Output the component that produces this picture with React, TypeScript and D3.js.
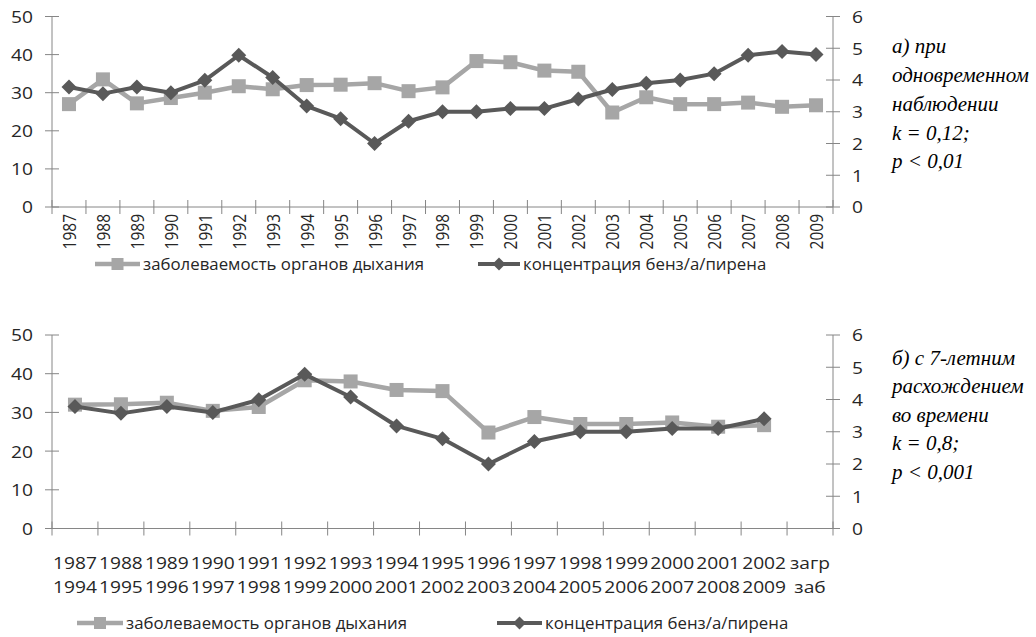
import React from "react";
import * as d3 from "d3";

const years: string[] = ["1987","1988","1989","1990","1991","1992","1993","1994","1995","1996","1997","1998","1999","2000","2001","2002","2003","2004","2005","2006","2007","2008","2009"];
// заболеваемость органов дыхания (left axis)
const morbidity: number[] = [27, 33.5, 27.2, 28.6, 30, 31.7, 30.9, 32, 32.1, 32.5, 30.4, 31.4, 38.3, 38, 35.8, 35.5, 24.8, 28.8, 27, 27, 27.4, 26.3, 26.7];
// концентрация бенз/а/пирена (right axis)
const concentration: number[] = [3.78, 3.57, 3.78, 3.6, 3.99, 4.78, 4.08, 3.18, 2.78, 2.0, 2.7, 3.0, 3.0, 3.1, 3.1, 3.4, 3.7, 3.9, 4.0, 4.2, 4.78, 4.9, 4.8];

// lower chart: 7-year lag
const lagTop: string[] = ["1987","1988","1989","1990","1991","1992","1993","1994","1995","1996","1997","1998","1999","2000","2001","2002","загр"];
const lagBottom: string[] = ["1994","1995","1996","1997","1998","1999","2000","2001","2002","2003","2004","2005","2006","2007","2008","2009","заб"];
const lagMorbidity: number[] = morbidity.slice(7);
const lagConcentration: number[] = concentration.slice(0, 16);

const leftTicks: number[] = [0, 10, 20, 30, 40, 50];
const rightTicks: number[] = [0, 1, 2, 3, 4, 5, 6];

const legendLabels: string[] = ["заболеваемость органов дыхания", "концентрация бенз/а/пирена"];
const noteA: string[] = ["а) при", "одновременном", "наблюдении", "k = 0,12;", "p < 0,01"];
const noteB: string[] = ["б) с 7-летним", "расхождением", "во времени", "k = 0,8;", "p < 0,001"];

const LIGHT = "#a6a6a6";
const DARK = "#595959";
const AXIS = "#868686";
const TEXT = "#262626";
const FONT = "'Open Sans', sans-serif";
const SERIF = "'Liberation Serif', 'Times New Roman', serif";

const X0 = 52;
const X1 = 833;

function T({ x, y, anchor = "start", size = 16.4, rotate = 0, sx = 1.17, children }: any) {
  return (
    <g transform={`translate(${x},${y}) scale(${sx},1) rotate(${rotate})`}>
      <text x={0} y={0} textAnchor={anchor} dominantBaseline="central" fontFamily={FONT} fontSize={size} fill={TEXT}>{children}</text>
    </g>
  );
}

function Square({ x, y, s = 14 }: { x: number; y: number; s?: number }) {
  return <rect x={x - s / 2} y={y - s / 2} width={s} height={s} fill={LIGHT} />;
}
function Diamond({ x, y, r = 7.5 }: { x: number; y: number; r?: number }) {
  return <path d={`M${x},${y - r}L${x + r},${y}L${x},${y + r}L${x - r},${y}Z`} fill={DARK} />;
}

function Panel({ cats, sA, sB, yTop, yBot, labels, note, noteY }: any) {
  const x = d3.scaleBand<number>().domain(d3.range(cats)).range([X0, X1]).padding(0);
  const yL = d3.scaleLinear().domain([0, 50]).range([yBot, yTop]);
  const yR = d3.scaleLinear().domain([0, 6]).range([yBot, yTop]);
  const cx = (i: number) => (x(i) as number) + x.bandwidth() / 2;
  const lineA = d3.line<number>().x((_, i) => cx(i)).y((d) => yL(d));
  const lineB = d3.line<number>().x((_, i) => cx(i)).y((d) => yR(d));
  const tickXs = d3.range(cats + 1).map((i) => X0 + i * x.bandwidth());
  return (
    <g>
      <line x1={X0} x2={X0} y1={yTop} y2={yBot} stroke={AXIS} />
      <line x1={X1} x2={X1} y1={yTop} y2={yBot} stroke={AXIS} />
      <line x1={X0} x2={X1} y1={yBot} y2={yBot} stroke={AXIS} />
      {leftTicks.map((t) => (
        <g key={"l" + t}>
          <line x1={X0 - 7} x2={X0 + 7} y1={yL(t)} y2={yL(t)} stroke={AXIS} />
          <T x={33} y={yL(t)} anchor="end">{t}</T>
        </g>
      ))}
      {rightTicks.map((t) => (
        <g key={"r" + t}>
          <line x1={X1 - 7} x2={X1 + 7} y1={yR(t)} y2={yR(t)} stroke={AXIS} />
          <T x={852} y={yR(t)}>{t}</T>
        </g>
      ))}
      {tickXs.map((tx, i) => (
        <line key={"x" + i} x1={tx} x2={tx} y1={yBot - 7} y2={yBot + 7} stroke={AXIS} />
      ))}
      {labels(cx)}
      <path d={lineA(sA) as string} fill="none" stroke={LIGHT} strokeWidth={4.5} strokeLinejoin="round" />
      {sA.map((d: number, i: number) => <Square key={"s" + i} x={cx(i)} y={yL(d)} />)}
      <path d={lineB(sB) as string} fill="none" stroke={DARK} strokeWidth={4} strokeLinejoin="round" />
      {sB.map((d: number, i: number) => <Diamond key={"d" + i} x={cx(i)} y={yR(d)} />)}
      {note.map((t: string, i: number) => (
        <text key={"n" + i} x={892} y={noteY[i]} dominantBaseline="central" fontFamily={SERIF} fontStyle="italic" fontSize={21} fill="#000">{t}</text>
      ))}
    </g>
  );
}

function Legend({ y, a, b }: { y: number; a: [number, number]; b: [number, number] }) {
  return (
    <g>
      <line x1={a[0]} x2={a[1]} y1={y} y2={y} stroke={LIGHT} strokeWidth={4.5} />
      <Square x={(a[0] + a[1]) / 2} y={y} s={12} />
      <T x={a[1] + 3} y={y} size={16.5} sx={1.02}>{legendLabels[0]}</T>
      <line x1={b[0]} x2={b[1]} y1={y} y2={y} stroke={DARK} strokeWidth={4} />
      <Diamond x={(b[0] + b[1]) / 2} y={y} r={6.5} />
      <T x={b[1] + 3} y={y} size={16.5} sx={1.02}>{legendLabels[1]}</T>
    </g>
  );
}

export default function App() {
  return (
    <svg width={1036} height={637} style={{ position: "absolute", left: 0, top: 0, background: "#fff" }}>
      <rect width={1036} height={637} fill="#fff" />
      <Panel
        cats={years.length}
        sA={morbidity}
        sB={concentration}
        yTop={16.5}
        yBot={207}
        note={noteA}
        noteY={[46, 75, 104, 133, 161]}
        labels={(cx: (i: number) => number) =>
          years.map((t, i) => (
            <T key={"yl" + i} x={cx(i)} y={214} anchor="end" rotate={-90} size={15.5}>{t}</T>
          ))
        }
      />
      <Legend y={264} a={[95, 140]} b={[478, 520]} />
      <Panel
        cats={lagTop.length}
        sA={lagMorbidity}
        sB={lagConcentration}
        yTop={335}
        yBot={528.5}
        note={noteB}
        noteY={[358, 386, 415, 443, 472]}
        labels={(cx: (i: number) => number) =>
          lagTop.map((t, i) => (
            <g key={"bl" + i}>
              <T x={cx(i)} y={563} anchor="middle">{t}</T>
              <T x={cx(i)} y={587} anchor="middle">{lagBottom[i]}</T>
            </g>
          ))
        }
      />
      <Legend y={623} a={[77, 123]} b={[497, 542]} />
    </svg>
  );
}
